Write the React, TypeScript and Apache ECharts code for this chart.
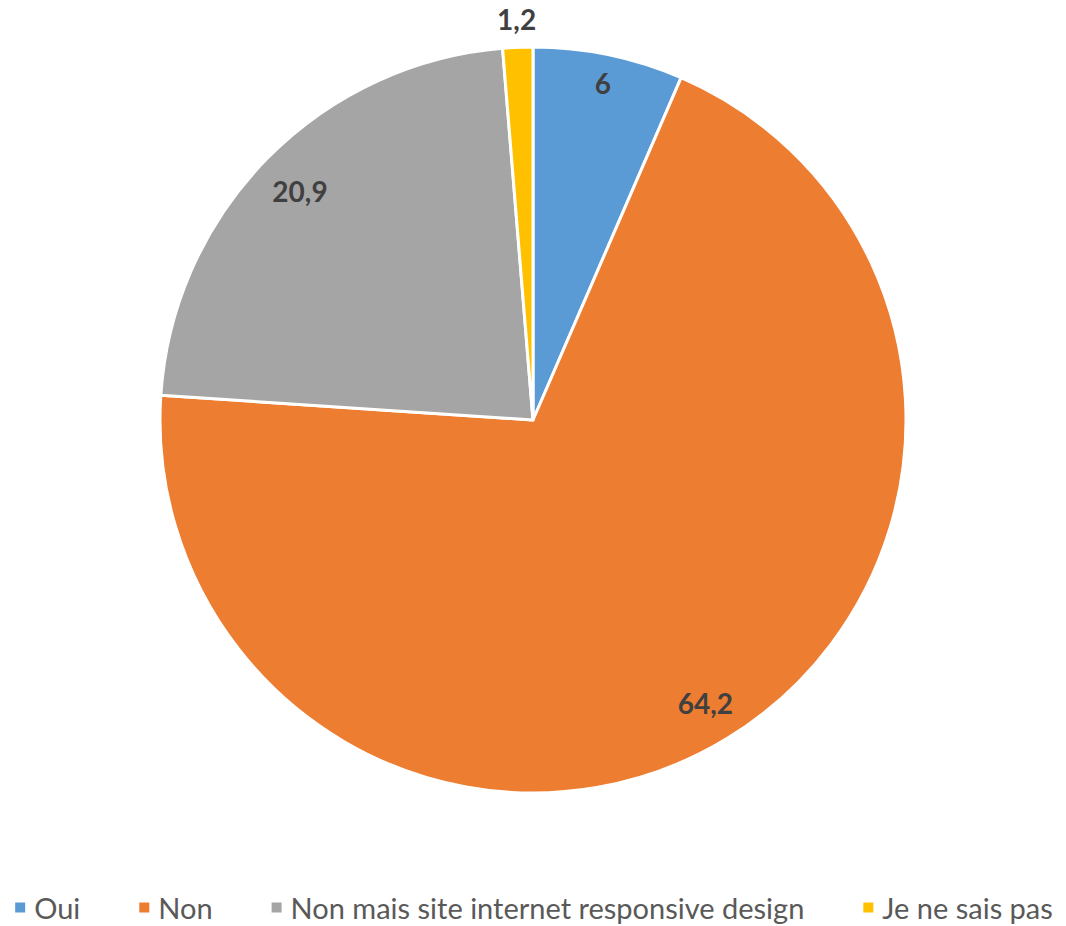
import React, { useEffect, useRef } from "react";
import * as echarts from "echarts";

const categories = ["Oui", "Non", "Non mais site internet responsive design", "Je ne sais pas"];
const values = [6, 64.2, 20.9, 1.2];
const colors = ["#5B9BD5", "#ED7D31", "#A5A5A5", "#FFC000"];
// radial distance of each value label from the pie centre (style only)
const labelRadius = [341, 328, 324, 398];

const fmt = (v: number) => String(v).replace(".", ",");

export default function App() {
  const ref = useRef<HTMLDivElement>(null);
  useEffect(() => {
    document.body.style.margin = "0";
    const chart = echarts.init(ref.current!, null, { renderer: "svg" });
    const font = "Lato, 'Open Sans', sans-serif";
    const labelStyle = {
      fontFamily: font,
      fontSize: 28,
      fontWeight: "bold" as const,
      color: "#404040",
    };
    const center = [533, 420];
    const labelSeries = categories.map((c, k) => ({
      type: "pie",
      name: "label" + k,
      center,
      radius: [labelRadius[k] - 20, labelRadius[k] + 20],
      startAngle: 90,
      silent: true,
      legendHoverLink: false,
      itemStyle: { color: "rgba(0,0,0,0)" },
      labelLine: { show: false },
      emphasis: { disabled: true },
      data: categories.map((cc, i) => ({
        name: cc + " ".repeat(k + 1),
        value: values[i],
        label: {
          show: i === k,
          position: "inside",
          formatter: fmt(values[i]),
          ...labelStyle,
        },
      })),
    }));
    chart.setOption({
      animation: false,
      backgroundColor: "#ffffff",
      legend: {
        data: categories,
        left: "center",
        top: 888,
        icon: "rect",
        itemWidth: 12,
        itemHeight: 12,
        itemGap: 57,
        textStyle: {
          fontFamily: font,
          fontSize: 29,
          color: "#595959",
          padding: [0, 0, 0, 3],
        },
      },
      series: [
        {
          type: "pie",
          name: "main",
          center,
          radius: [0, 373],
          startAngle: 90,
          clockwise: true,
          label: { show: false },
          labelLine: { show: false },
          itemStyle: { borderColor: "#ffffff", borderWidth: 3 },
          emphasis: { disabled: true },
          data: categories.map((c, i) => ({
            name: c,
            value: values[i],
            itemStyle: { color: colors[i] },
          })),
        },
        ...labelSeries,
      ],
    });
    return () => chart.dispose();
  }, []);
  return <div ref={ref} style={{ width: 1066, height: 926 }} />;
}
